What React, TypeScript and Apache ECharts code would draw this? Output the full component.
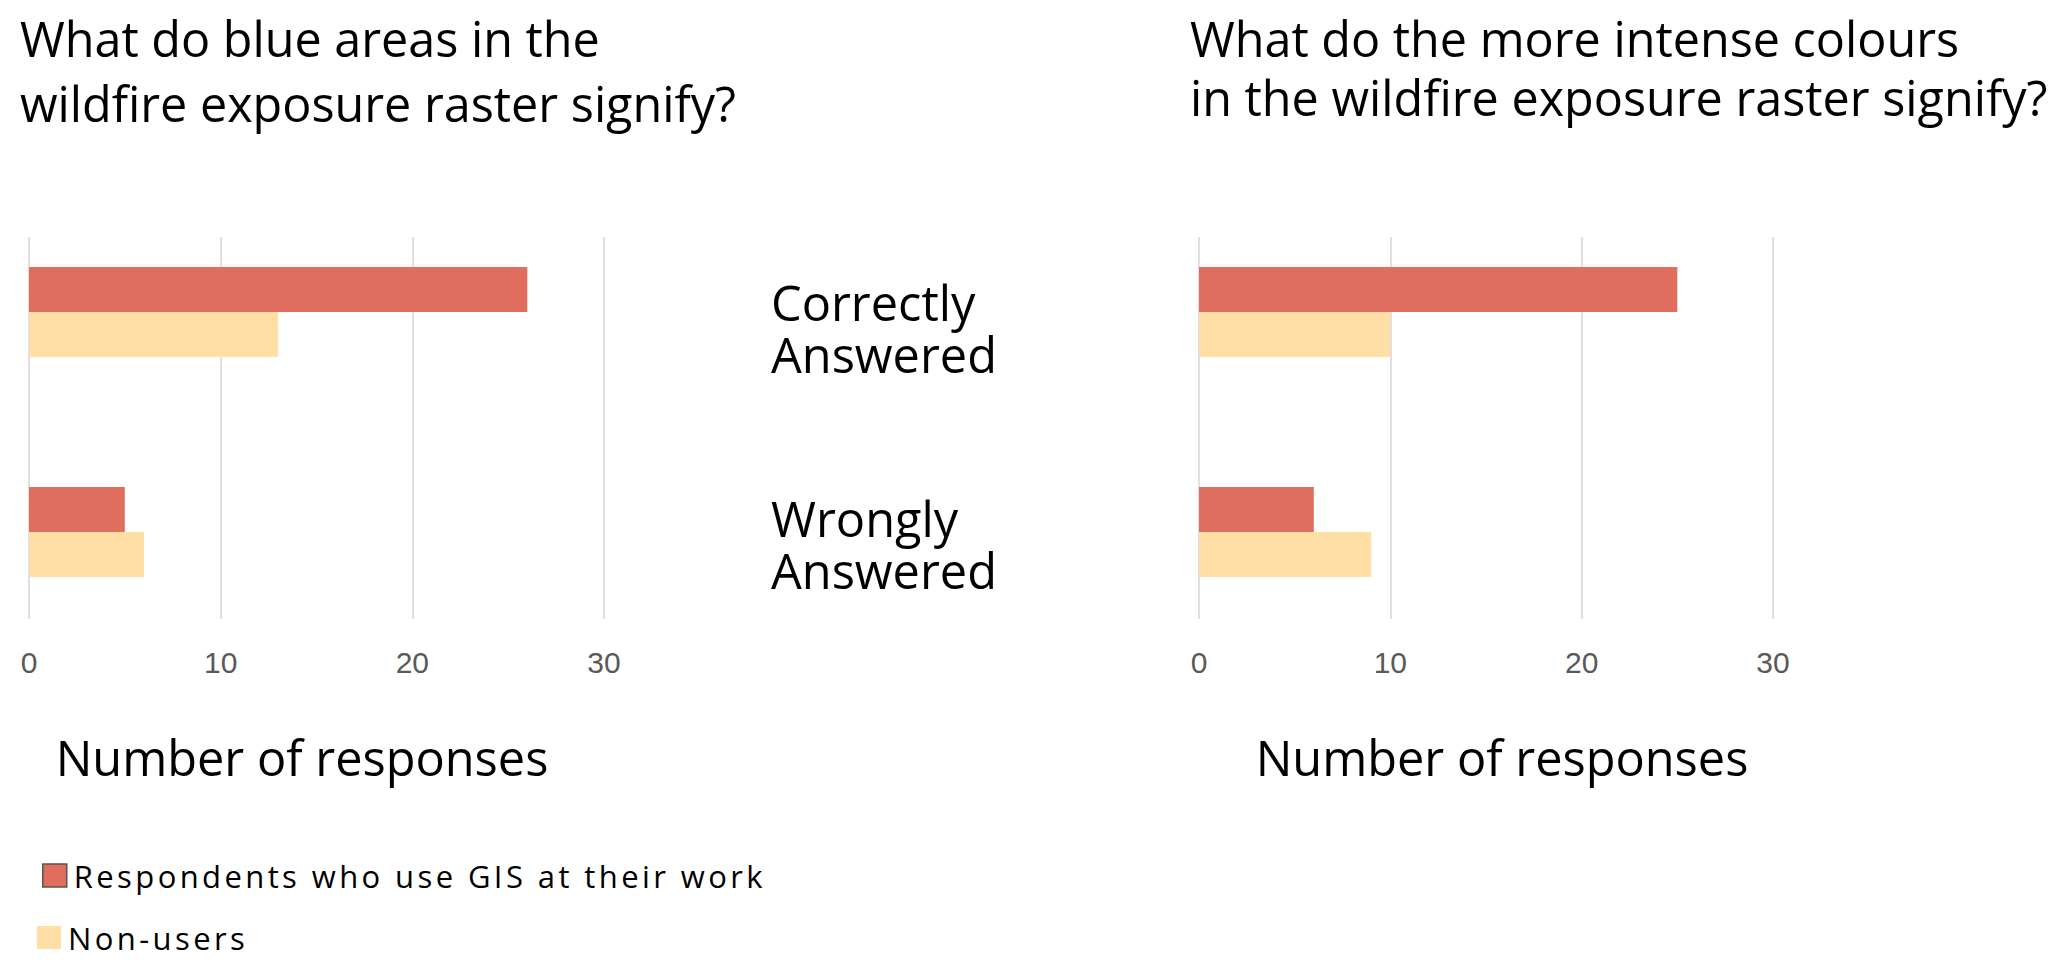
import React, { useEffect, useRef } from "react";
import * as echarts from "echarts";

const categories = ["Correctly Answered", "Wrongly Answered"];
const seriesNames = ["Respondents who use GIS at their work", "Non-users"];
const leftUsers = [26, 5];
const leftNonUsers = [13, 6];
const rightUsers = [25, 6];
const rightNonUsers = [10, 9];
const xTicks = [0, 10, 20, 30];
const leftTitle = "What do blue areas in the\nwildfire exposure raster signify?";
const rightTitle = "What do the more intense colours\nin the wildfire exposure raster signify?";
const axisName = "Number of responses";

const RED = "#E06E5E";
const YELLOW = "#FFDFA6";
const FONT = "'Open Sans', 'Noto Sans', sans-serif";
const TICK_FONT = "'Liberation Sans', Arial, sans-serif";

export default function App() {
  const ref = useRef<HTMLDivElement>(null);
  useEffect(() => {
    if (!ref.current) return;
    const chart = echarts.init(ref.current, undefined, { renderer: "svg" });
    const xMin = xTicks[0];
    const xMax = xTicks[xTicks.length - 1];
    const lineAxis = (gridIndex: number, namePad: number[]) => ({
      type: "value",
      gridIndex,
      min: xMin,
      max: xMax,
      interval: 10,
      axisLine: { show: false },
      axisTick: { show: false },
      splitLine: { show: true, lineStyle: { color: "#d6d6d6", width: 1.5 } },
      axisLabel: { fontSize: 30, color: "#595959", fontFamily: TICK_FONT, margin: 28 },
      name: axisName,
      nameLocation: "middle",
      nameGap: 113,
      nameTextStyle: { fontSize: 48.7, color: "#000", fontFamily: FONT, padding: namePad },
    });
    const hiddenXAxis = (gridIndex: number) => ({
      type: "value",
      gridIndex,
      min: xMin,
      max: xMax,
      show: false,
    });
    const legendText = { fontSize: 31, lineHeight: 23, color: "#000", fontFamily: FONT, padding: [0, 0, 0, 2] };
    const option: any = {
      animation: false,
      backgroundColor: "#fff",
      title: [
        {
          text: leftTitle,
          left: 20,
          top: 5,
          padding: 0,
          textStyle: { fontSize: 48.5, lineHeight: 65, fontWeight: "normal", color: "#000", fontFamily: FONT },
        },
        {
          text: rightTitle,
          left: 1190,
          top: 8,
          padding: 0,
          textStyle: { fontSize: 48.5, lineHeight: 59, fontWeight: "normal", color: "#000", fontFamily: FONT },
        },
      ],
      legend: [
        {
          data: [{ name: seriesNames[0], itemStyle: { borderColor: "#555", borderWidth: 1.5 } }],
          left: 42,
          top: 860,
          padding: 0,
          itemWidth: 24,
          itemHeight: 23,
          icon: "rect",
          selectedMode: false,
          textStyle: legendText,
        },
        {
          data: [{ name: seriesNames[1] }],
          left: 37,
          top: 922,
          padding: 0,
          itemWidth: 24,
          itemHeight: 23,
          icon: "rect",
          selectedMode: false,
          textStyle: legendText,
        },
      ],
      grid: [
        { left: 29, top: 237, width: 575, height: 382 },
        { left: 29, top: 202, width: 575, height: 440 },
        { left: 1199, top: 237, width: 574, height: 382 },
        { left: 1199, top: 202, width: 574, height: 440 },
        { left: 1199, top: 220, width: 574, height: 432 },
      ],
      xAxis: [
        lineAxis(0, [0, 29, 0, 0]),
        hiddenXAxis(1),
        lineAxis(2, [0, 0, 0, 32]),
        hiddenXAxis(3),
        hiddenXAxis(4),
      ],
      yAxis: [
        { type: "category", gridIndex: 0, data: categories, inverse: true, show: false },
        { type: "category", gridIndex: 1, data: categories, inverse: true, show: false },
        { type: "category", gridIndex: 2, data: categories, inverse: true, show: false },
        { type: "category", gridIndex: 3, data: categories, inverse: true, show: false },
        {
          type: "category",
          gridIndex: 4,
          data: categories,
          inverse: true,
          axisLine: { show: false },
          axisTick: { show: false },
          splitLine: { show: false },
          axisLabel: {
            show: true,
            align: "left",
            margin: 428,
            fontSize: 48.7,
            lineHeight: 52,
            color: "#000",
            fontFamily: FONT,
            formatter: (v: string) => v.replace(" ", "\n"),
          },
        },
      ],
      series: [
        { name: seriesNames[0], type: "bar", xAxisIndex: 1, yAxisIndex: 1, data: leftUsers, barWidth: 45, barGap: "0%", itemStyle: { color: RED } },
        { name: seriesNames[1], type: "bar", xAxisIndex: 1, yAxisIndex: 1, data: leftNonUsers, barWidth: 45, barGap: "0%", itemStyle: { color: YELLOW } },
        { name: seriesNames[0], type: "bar", xAxisIndex: 3, yAxisIndex: 3, data: rightUsers, barWidth: 45, barGap: "0%", itemStyle: { color: RED } },
        { name: seriesNames[1], type: "bar", xAxisIndex: 3, yAxisIndex: 3, data: rightNonUsers, barWidth: 45, barGap: "0%", itemStyle: { color: YELLOW } },
      ],
    };
    const applySpacing = () => {
      const el = ref.current;
      if (!el) return;
      el.querySelectorAll("text").forEach((t) => {
        if (seriesNames.includes((t.textContent || "").trim())) {
          t.setAttribute("letter-spacing", "3.4");
          (t as any).style.letterSpacing = "3.4px";
        }
      });
    };
    chart.on("finished", applySpacing);
    chart.setOption(option);
    applySpacing();
    const timer = setTimeout(applySpacing, 50);
    return () => {
      clearTimeout(timer);
      chart.dispose();
    };
  }, []);
  return (
    <div
      ref={ref}
      style={{ position: "fixed", left: 0, top: 0, width: 2067, height: 969, background: "#fff" }}
    />
  );
}
